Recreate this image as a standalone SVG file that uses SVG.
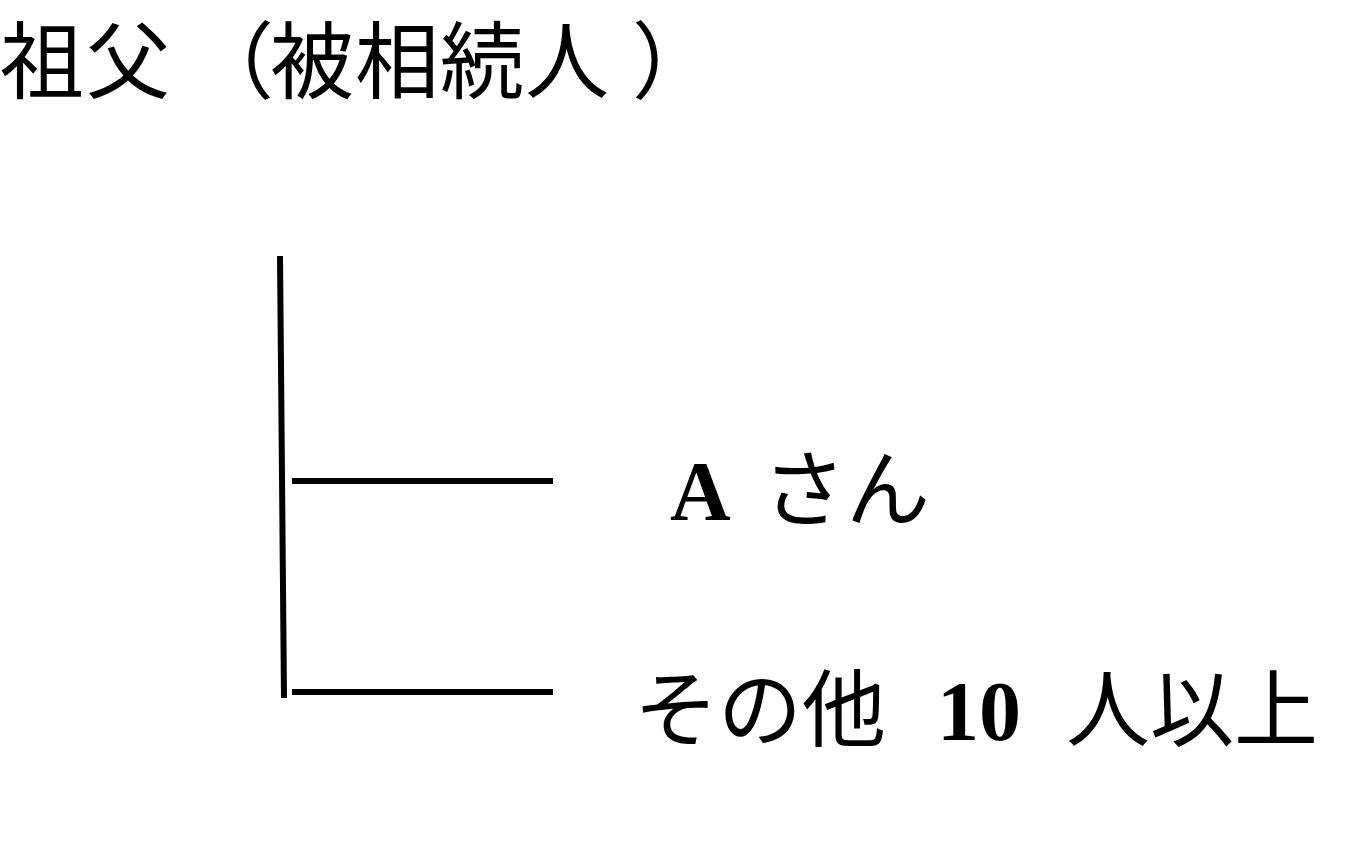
<svg xmlns="http://www.w3.org/2000/svg" width="1366" height="867" viewBox="0 0 1366 867">
  <style>
    .t { font-family: "Liberation Serif", "Noto Sans CJK JP", serif; font-size: 84px; fill: #000; text-spacing-trim: space-all; }
    .b { font-weight: bold; }
    .ln { stroke: #000; stroke-width: 6; fill: none; }
  </style>
  <rect width="1366" height="867" fill="#fff"/>
  <g id="grandfather">
    <text class="t" x="0 86 190 270 355 440 525 632" y="92">祖父（被相続人）</text>
  </g>
  <g id="connectors">
    <line class="ln" x1="280" y1="256" x2="284" y2="698"/>
    <line class="ln" x1="292" y1="481" x2="553" y2="481"/>
    <line class="ln" x1="292" y1="692" x2="553" y2="692"/>
  </g>
  <g id="a-san">
    <text class="t" y="520"><tspan class="b" x="670">A</tspan><tspan x="762">さん</tspan></text>
  </g>
  <g id="others">
    <text class="t" y="740"><tspan x="634">その他</tspan><tspan class="b" x="937">10</tspan><tspan x="1066">人以上</tspan></text>
  </g>
</svg>
